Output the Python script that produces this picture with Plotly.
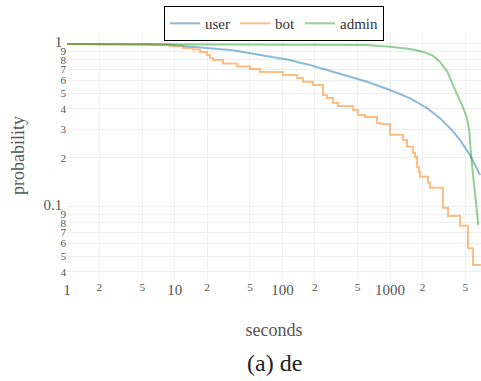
import plotly.graph_objects as go

# Survival curves: probability that a session lasts longer than t seconds
user_t = [1, 3, 5.9, 9, 11.9, 17, 24.7, 34.8, 50, 76.8, 117, 146, 180, 295, 612,
          998, 1520, 2200, 2890, 3730, 4457, 5525, 6840]
user_p = [1.0, 0.999, 0.995, 0.988, 0.972, 0.952, 0.933, 0.915, 0.877, 0.836, 0.798,
          0.768, 0.743, 0.676, 0.587, 0.522, 0.465, 0.405, 0.352, 0.297, 0.258,
          0.208, 0.157]

bot_t = [1, 5.9, 9.0, 11.9, 14.8, 17.2, 19.9, 21.3, 22.7, 28.1, 37.9, 50.0, 61.9,
         101, 137, 155, 192, 238, 260, 295, 328, 453, 504, 585, 756, 806, 998,
         1318, 1436, 1633, 1704, 1778, 1855, 1897, 2250, 2346, 3098, 3451, 4457,
         5289, 5890, 6980]
bot_p = [1.0, 0.993, 0.972, 0.945, 0.925, 0.893, 0.856, 0.821, 0.798, 0.759, 0.728,
         0.703, 0.673, 0.645, 0.619, 0.587, 0.560, 0.487, 0.466, 0.434, 0.416,
         0.394, 0.367, 0.356, 0.327, 0.323, 0.277, 0.258, 0.234, 0.214, 0.203,
         0.176, 0.164, 0.153, 0.141, 0.131, 0.099, 0.088, 0.0766, 0.0559, 0.044,
         0.044]

admin_t = [1, 20, 146, 612, 998, 1520, 2010, 2500, 2890, 3400, 3840, 4457, 4770,
           5175, 5450, 5640, 6140, 6590]
admin_p = [1.0, 0.995, 0.988, 0.985, 0.963, 0.932, 0.897, 0.848, 0.779, 0.676,
           0.560, 0.453, 0.405, 0.352, 0.29, 0.208, 0.115, 0.0776]

SERIF = "Liberation Serif"

fig = go.Figure()
fig.add_trace(go.Scatter(x=user_t, y=user_p, mode="lines", name="user",
                         line=dict(color="#1f77b4", width=2), opacity=0.5))
fig.add_trace(go.Scatter(x=bot_t, y=bot_p, mode="lines", name="bot",
                         line=dict(color="#ff7f0e", width=2, shape="hv"), opacity=0.5))
fig.add_trace(go.Scatter(x=admin_t, y=admin_p, mode="lines", name="admin",
                         line=dict(color="#2ca02c", width=2), opacity=0.5))

fig.update_layout(
    width=481, height=381,
    margin=dict(l=67, r=0, t=32, b=102),
    paper_bgcolor="white", plot_bgcolor="white",
    font=dict(family=SERIF, size=15, color="#444"),
    showlegend=True,
    legend=dict(orientation="h", x=0.5, xanchor="center", y=1.105, yanchor="top",
                bordercolor="black", borderwidth=1, bgcolor="white",
                tracegroupgap=0,
                font=dict(family=SERIF, size=15, color="#333")),
    xaxis=dict(type="log", range=[0, 3.844], dtick="D2", showgrid=True,
               gridcolor="#eeeeee", zeroline=False, showline=False,
               tickfont=dict(family=SERIF, size=15, color="#555"),
               title=dict(text="seconds", font=dict(family=SERIF, size=18, color="#555"),
                          standoff=26)),
    yaxis=dict(type="log", range=[-1.442, 0.0736], dtick="D1", showgrid=True,
               gridcolor="#eeeeee", zeroline=False, showline=False,
               tickfont=dict(family=SERIF, size=15, color="#555"),
               title=dict(text="probability", font=dict(family=SERIF, size=18, color="#555"),
                          standoff=14)),
    annotations=[dict(text="(a) de", xref="paper", yref="paper", x=0.5, y=-0.34,
                      xanchor="center", yanchor="middle", showarrow=False,
                      font=dict(family=SERIF, size=24, color="#222"))],
)

fig.write_html("out.html")
